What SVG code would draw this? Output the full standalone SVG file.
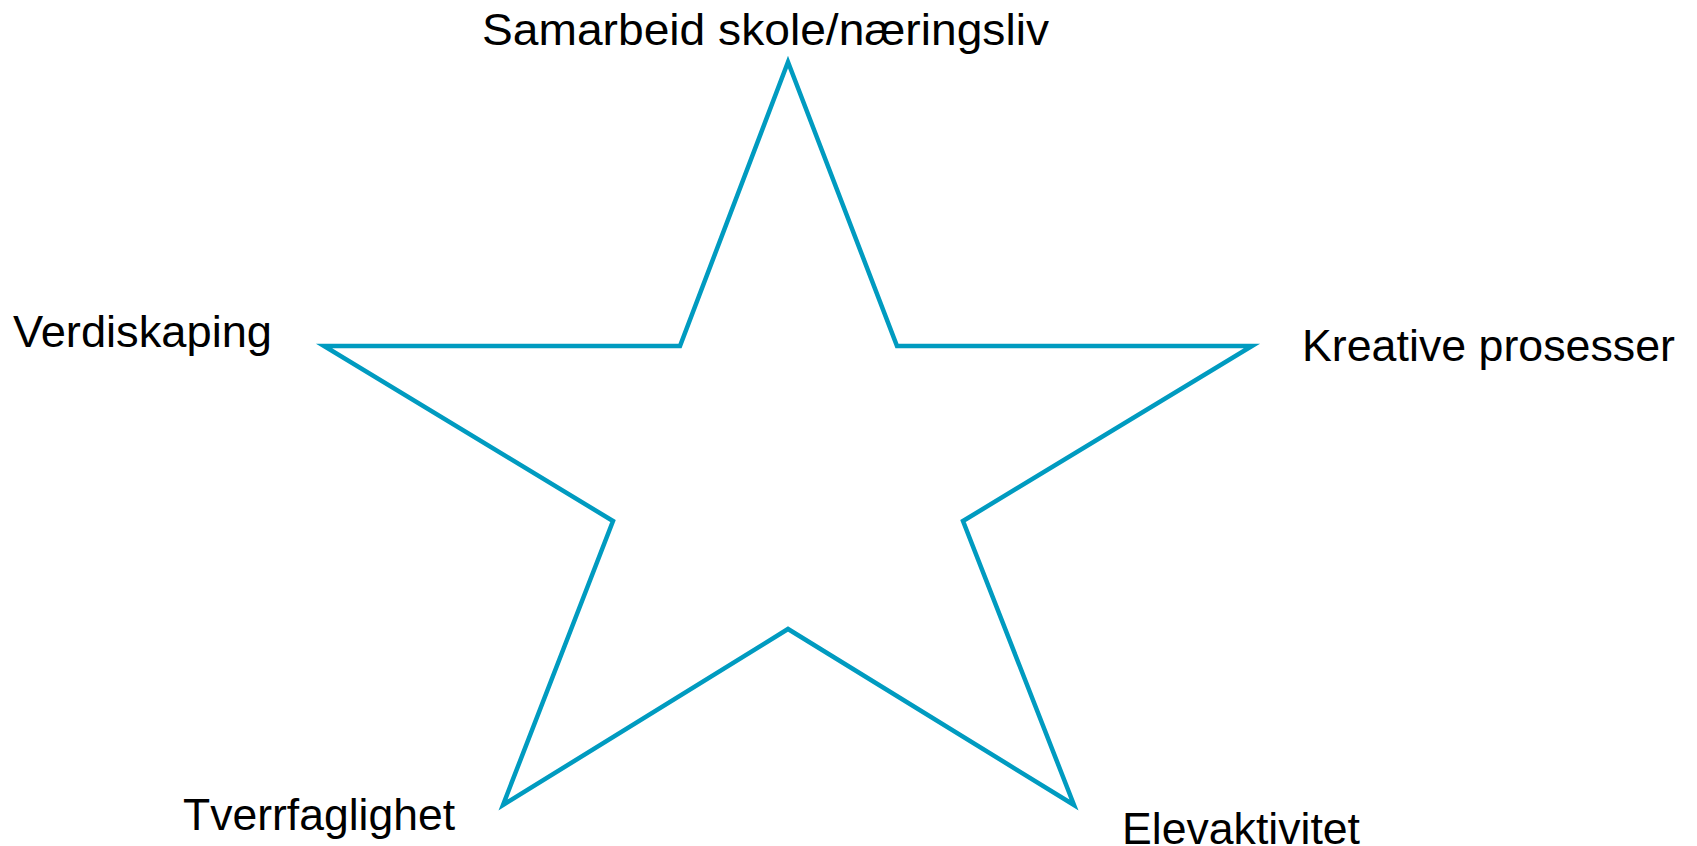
<svg xmlns="http://www.w3.org/2000/svg" width="1697" height="846" viewBox="0 0 1697 846">
<style>
.lbl{font-family:"Liberation Sans",Arial,sans-serif;font-size:44px;fill:#000}
.star{fill:none;stroke:#009BC0;stroke-width:4.5;stroke-linejoin:miter;stroke-miterlimit:10}
</style>
<rect width="1697" height="846" fill="#fff"/>
<g id="connectors">
<polygon class="star" points="788,62 897,346 1252,346 963,521 1074,805 788,629 503,805 613,521 324,346 680,346"/>
</g>
<g id="n1"><text class="lbl" x="482" y="45" textLength="567" lengthAdjust="spacingAndGlyphs">Samarbeid skole/næringsliv</text></g>
<g id="n2"><text class="lbl" x="13" y="347" textLength="259" lengthAdjust="spacingAndGlyphs">Verdiskaping</text></g>
<g id="n3"><text class="lbl" x="1302" y="361" textLength="373" lengthAdjust="spacingAndGlyphs">Kreative prosesser</text></g>
<g id="n4"><text class="lbl" x="183" y="830" textLength="272" lengthAdjust="spacingAndGlyphs">Tverrfaglighet</text></g>
<g id="n5"><text class="lbl" x="1122" y="844" textLength="238" lengthAdjust="spacingAndGlyphs">Elevaktivitet</text></g>
</svg>
